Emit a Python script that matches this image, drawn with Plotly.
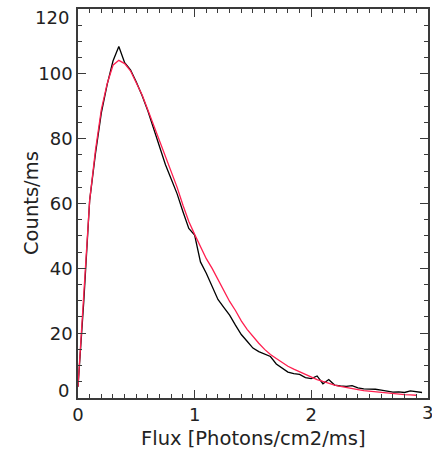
"""Counts/ms vs photon flux: measured histogram (black) and model fit (red)."""

import plotly.graph_objects as go

# measured counts, sampled every 0.05 in flux
flux_data = [round(0.05 * i, 2) for i in range(60)]
counts_data = [
    3.5, 30, 61, 75.5, 88, 96.7, 104, 108.5, 103.5, 101.3,
    97.5, 93.3, 88.5, 83, 77.5, 72, 67.5, 63, 57.5, 52.3,
    50.3, 42, 38.5, 34.5, 30.4, 28, 25.6, 22.5, 19.6, 17.5,
    15.4, 14.3, 13.5, 12.8, 10.5, 9.2, 8, 7.5, 7.3, 6.3,
    6, 6.8, 4.4, 5.7, 4, 3.7, 3.6, 3.8, 3.1, 2.8,
    2.8, 2.7, 2.4, 2.1, 1.8, 1.9, 1.7, 2.2, 2.0, 1.7,
]

# fitted model curve
flux_fit = [round(0.05 * i, 2) for i in range(59)]
counts_fit = [
    3.5, 31, 61, 76.5, 89, 97, 102.7, 104.2, 103.2, 101,
    97.5, 93.5, 88.8, 84, 79, 74, 69.7, 65, 59.5, 54.5,
    50.5, 46.5, 43, 40, 36.5, 33, 29.8, 27, 23.8, 21.2,
    18.9, 16.9, 15, 13.4, 12.2, 10.9, 9.8, 8.9, 8.1, 7.2,
    6.4, 5.7, 5.1, 4.5, 4.0, 3.6, 3.2, 2.9, 2.6, 2.3,
    2.1, 1.9, 1.7, 1.5, 1.35, 1.2, 1.05, 0.95, 0.85,
]

x_ticks = [0, 1, 2, 3]
y_ticks = [0, 20, 40, 60, 80, 100, 120]

AXIS_COLOR = "#3a3a3a"
TEXT_COLOR = "#222222"
FONT = "DejaVu Sans"
TICK_FONT = dict(family=FONT, size=18, color=TEXT_COLOR)
TITLE_FONT = dict(family=FONT, size=19.5, color=TEXT_COLOR)

fig = go.Figure()
fig.add_trace(go.Scatter(x=flux_data, y=counts_data, mode="lines",
                         line=dict(color="black", width=1.3), showlegend=False))
fig.add_trace(go.Scatter(x=flux_fit, y=counts_fit, mode="lines",
                         line=dict(color="#ff1f4f", width=1.3), showlegend=False))

axis_common = dict(
    showgrid=False, zeroline=False, automargin=False,
    showline=True, linecolor=AXIS_COLOR, linewidth=1.5, mirror="allticks",
    ticks="inside", ticklen=8, tickwidth=1, tickcolor=AXIS_COLOR,
    tickfont=TICK_FONT, ticklabeloverflow="allow",
)

# end labels are drawn as annotations below, kept inside the axis extent
fig.update_xaxes(
    range=[0, 3.001], tickvals=x_ticks,
    ticktext=[str(v) for v in x_ticks[:-1]] + [""],
    minor=dict(dtick=0.1, ticks="inside", ticklen=4, tickcolor=AXIS_COLOR),
    **axis_common,
)
fig.update_yaxes(
    range=[0, 120.05], tickvals=y_ticks,
    ticktext=[""] + [str(v) for v in y_ticks[1:-1]] + [""],
    minor=dict(dtick=5, ticks="inside", ticklen=4, tickcolor=AXIS_COLOR),
    **axis_common,
)

fig.add_annotation(text=str(y_ticks[0]), xref="paper", x=0, xanchor="right",
                   xshift=-7, yref="y", y=y_ticks[0], yanchor="bottom",
                   yshift=-5, showarrow=False, font=TICK_FONT)
fig.add_annotation(text=str(y_ticks[-1]), xref="paper", x=0, xanchor="right",
                   xshift=-7, yref="y", y=y_ticks[-1], yanchor="top",
                   yshift=4, showarrow=False, font=TICK_FONT)
fig.add_annotation(text=str(x_ticks[-1]), xref="x", x=x_ticks[-1],
                   xanchor="center", yref="paper", y=0, yanchor="middle",
                   yshift=-14, showarrow=False, font=TICK_FONT)
# axis titles
fig.add_annotation(text="Counts/ms", xref="paper", x=0, xshift=-60,
                   yref="paper", y=0.5, textangle=-90, showarrow=False,
                   font=TITLE_FONT)
fig.add_annotation(text="Flux [Photons/cm2/ms]", xref="paper", x=0.5,
                   yref="paper", y=0, yanchor="middle", yshift=-40,
                   showarrow=False, font=TITLE_FONT)

fig.update_layout(
    width=432, height=452,
    margin=dict(l=78, r=4, t=9, b=54),
    plot_bgcolor="white", paper_bgcolor="white",
)

# drop the default body margin so the page fits the window without scrolling
fig.write_html(
    "out.html",
    config={"displayModeBar": False},
    post_script="document.body.style.margin='0';document.body.style.overflow='hidden';",
)
